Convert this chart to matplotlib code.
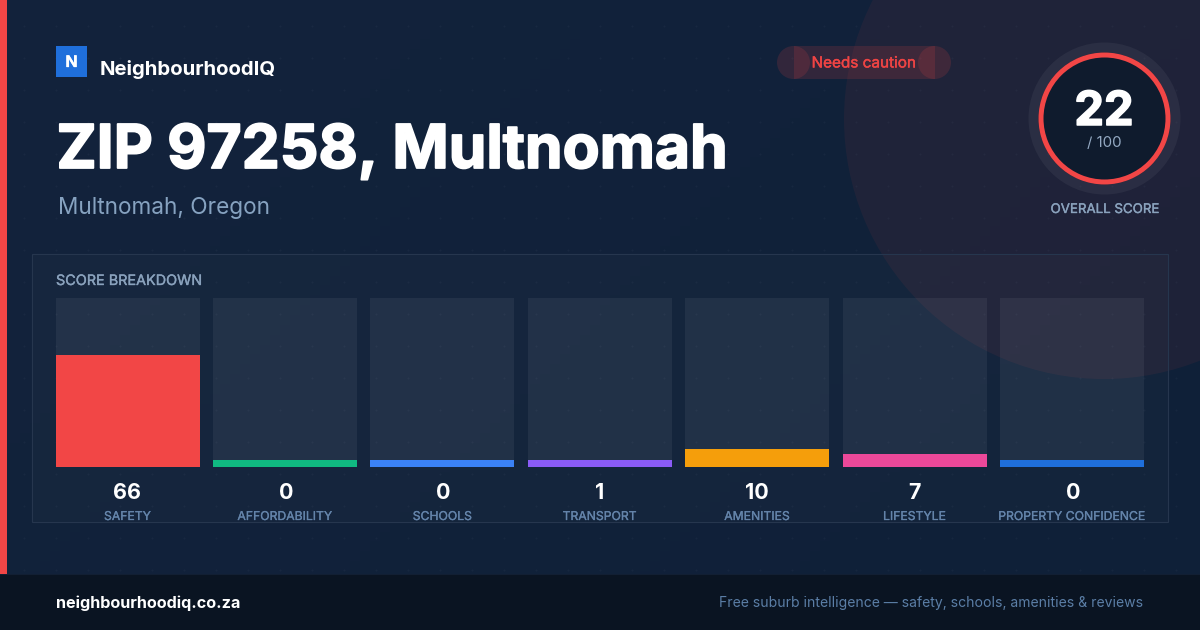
import numpy as np
import matplotlib
matplotlib.use("Agg")
import matplotlib.pyplot as plt
from matplotlib.patches import Rectangle, Circle, Wedge
import matplotlib.patheffects as pe

categories = ["SAFETY", "AFFORDABILITY", "SCHOOLS", "TRANSPORT", "AMENITIES", "LIFESTYLE", "PROPERTY CONFIDENCE"]
scores = [66, 0, 0, 1, 10, 7, 0]
bar_levels = [66.3, 4.1, 4.1, 4.1, 10.6, 7.6, 4.1]
bar_colors = ["#f24646", "#10b981", "#3b82f6", "#8b5cf6", "#f59e0b", "#ec4899", "#1f6fdb"]
overall_score = 22

plt.rcParams["font.family"] = ["Inter", "DejaVu Sans"]

W, H = 1200, 630
def px(v):
    return v * 0.72

def heavy(t, lw):
    t.set_path_effects([pe.withStroke(linewidth=lw, foreground=t.get_color())])
    return t

fig = plt.figure(figsize=(12, 6.3), dpi=100)
bg = fig.add_axes([0, 0, 1, 1])
bg.set_xlim(0, W); bg.set_ylim(H, 0); bg.axis("off")

# background gradient
gy, gx = np.mgrid[0:1:64j, 0:1:120j]
t = np.clip((gx * 1200 + gy * 630) / 1830, 0, 1)[..., None]
c0 = np.array([0x13, 0x23, 0x3c]) / 255
c1 = np.array([0x0f, 0x20, 0x38]) / 255
bg.imshow(c0 * (1 - t) + c1 * t, extent=[0, W, H, 0], aspect="auto", zorder=0)
bg.set_xlim(0, W); bg.set_ylim(H, 0)

# dots
dx, dy = np.meshgrid(np.arange(24, W, 32), np.arange(26, 574, 32))
bg.scatter(dx.ravel(), dy.ravel(), s=2.2, color="white", alpha=0.03, linewidths=0, zorder=1)

# large circle
bg.add_patch(Circle((1104, 119), 260, fc="#f24646", alpha=0.065, ec="none", zorder=2))

# accent bar and footer
bg.add_patch(Rectangle((0, 0), 7, 574, fc="#f24646", ec="none", zorder=3))
bg.add_patch(Rectangle((0, 574), W, 56, fc="#0a1422", ec="none", zorder=3))
bg.add_patch(Rectangle((0, 574), W, 1, fc="#121f33", ec="none", zorder=3))

# logo
bg.add_patch(Rectangle((56, 46), 31, 31, fc="#1f6fdb", ec="none", zorder=4))
heavy(bg.text(71.5, 67, "N", color="white", fontsize=px(16), fontweight="bold", ha="center", va="baseline", zorder=5), 0.2)
bg.text(100, 75, "NeighbourhoodIQ", color="white", fontsize=px(20.3), fontweight="bold", va="baseline", zorder=5)

# title
heavy(bg.text(56.5, 168, "ZIP 97258, Multnomah", color="white", fontsize=px(60.5), fontweight="bold", va="baseline", zorder=5), 1.3)
bg.text(58, 214, "Multnomah, Oregon", color="#86a2c0", fontsize=px(22.6), va="baseline", zorder=5)

# pill
for patch in (Rectangle((793.5, 46), 141, 33, fc="#f24646", alpha=0.15, ec="none", zorder=4),
              Circle((793.5, 62.5), 16.5, fc="#f24646", alpha=0.15, ec="none", zorder=4),
              Circle((934.5, 62.5), 16.5, fc="#f24646", alpha=0.15, ec="none", zorder=4)):
    bg.add_patch(patch)
heavy(bg.text(863.5, 67.5, "Needs caution", color="#ef4444", fontsize=px(15.3), ha="center", va="baseline", zorder=5), 0.3)

# score ring
bg.add_patch(Circle((1104.5, 118.5), 76, fc="white", alpha=0.05, ec="none", zorder=4))
bg.add_patch(Circle((1104.5, 118.5), 66, fc="#0f1b2d", ec="none", zorder=5))
bg.add_patch(Wedge((1104.5, 118.5), 66, 0, 360, width=5, fc="#f24646", ec="none", zorder=6))
heavy(bg.text(1104, 125, str(overall_score), color="white", fontsize=px(47), fontweight="bold", ha="center", va="baseline", zorder=7), 1.1)
bg.text(1104.5, 147, "/ 100", color="#94a9c2", fontsize=px(15), ha="center", va="baseline", zorder=7)
heavy(bg.text(1104.5, 213, "OVERALL SCORE", color="#8aa2bd", fontsize=px(13.3), ha="center", va="baseline", zorder=7), 0.25)

# card
bg.add_patch(Rectangle((32, 254), 1136, 268, fc="white", alpha=0.02, ec="none", zorder=6))
bg.add_patch(Rectangle((32, 254), 1136, 268, fc="none", ec="#26364e", lw=0.8, zorder=6))
heavy(bg.text(56, 285, "SCORE BREAKDOWN", color="#8aa2bd", fontsize=px(14.4), va="baseline", zorder=7), 0.25)

# bars axes
pitch = 157.4
left = 55.6
ax = fig.add_axes([left / W, 1 - 467 / H, (6 * pitch + 144) / W, 169 / H], zorder=5)
ax.patch.set_alpha(0)
ax.axis("off")
half = 72 / pitch
ax.set_xlim(-half, 6 + half)
ax.set_ylim(0, 100)
x = np.arange(len(scores))
width = 144 / pitch
ax.bar(x, [100] * len(scores), width=width, color="white", alpha=0.06, linewidth=0)
ax.bar(x, bar_levels, width=width, color=bar_colors, linewidth=0)

for i, (cat, v) in enumerate(zip(categories, scores)):
    cx = 128 + i * pitch
    bg.text(cx - 0.6 if v else cx + 0.6, 499, str(v), color="white", fontsize=px(21.5), fontweight="bold", ha="center", va="baseline", zorder=8)
    heavy(bg.text(cx - 0.5, 520, cat, color="#6484aa", fontsize=px(12.2), ha="center", va="baseline", zorder=8), 0.2)

# footer text
bg.text(56, 608, "neighbourhoodiq.co.za", color="white", fontsize=px(16.2), fontweight="bold", va="baseline", zorder=8)
bg.text(1143, 607, "Free suburb intelligence \u2014 safety, schools, amenities & reviews", color="#5b7ea6", fontsize=px(13.98), ha="right", va="baseline", zorder=8)

fig.savefig("out.png", dpi=100)
